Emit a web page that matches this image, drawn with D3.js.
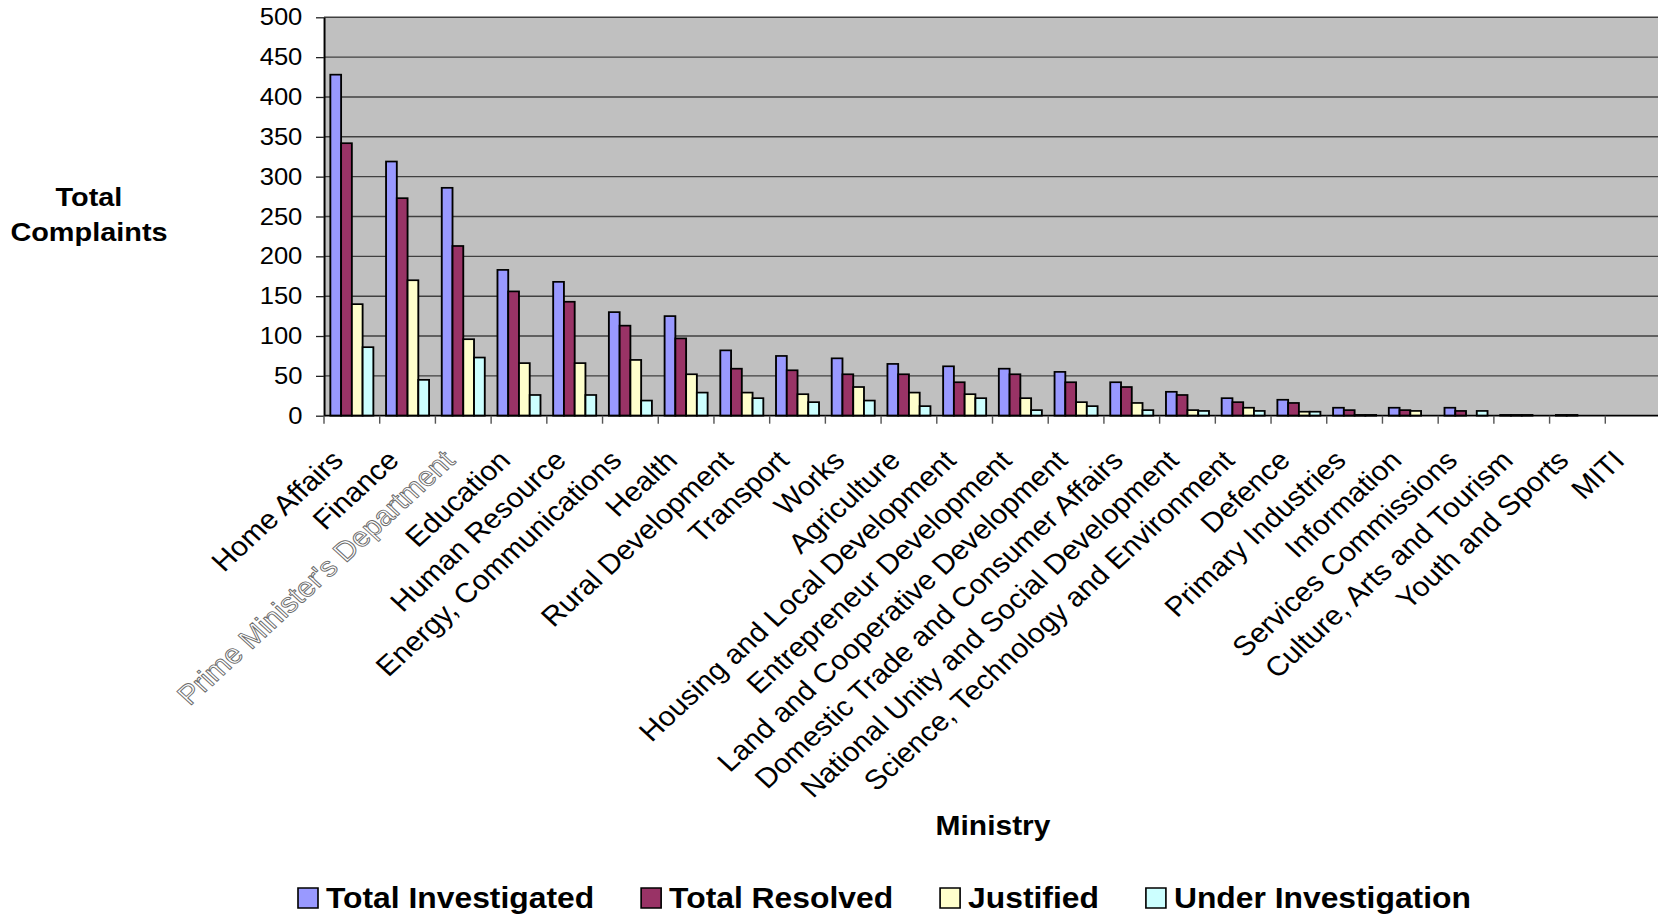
<!DOCTYPE html>
<html>
<head>
<meta charset="utf-8">
<script src="https://cdn.jsdelivr.net/npm/d3@7"></script>
<style>
  html, body { margin: 0; padding: 0; background: #ffffff; }
  svg { display: block; font-family: "Liberation Sans", Arial, sans-serif; }
</style>
</head>
<body>
<svg id="chart"></svg>
<script>
// ---- Data ----
const categories = [
  "Home Affairs", "Finance", "Prime Minister's Department", "Education",
  "Human Resource", "Energy, Communications", "Health", "Rural Development",
  "Transport", "Works", "Agriculture", "Housing and Local Development",
  "Entrepreneur Development", "Land and Cooperative Development",
  "Domestic Trade and Consumer Affairs", "National Unity and Social Development",
  "Science, Technology and Environment", "Defence", "Primary Industries",
  "Information", "Services Commissions", "Culture, Arts and Tourism",
  "Youth and Sports", "MITI"
];
const totalInvestigated  = [428, 319, 286, 183, 168, 130, 125, 82, 75, 72, 65, 62, 59, 55, 42, 30, 22, 20, 10, 10, 10, 1, 1, 0];
const totalResolved      = [342, 273, 213, 156, 143, 113, 97, 59, 57, 52, 52, 42, 52, 42, 36, 26, 17, 16, 7, 7, 6, 1, 1, 0];
const justified          = [140, 170, 96, 66, 66, 70, 52, 29, 27, 36, 29, 27, 22, 17, 16, 7, 10, 5, 1, 6, 0, 1, 0, 0];
const underInvestigation = [86, 45, 73, 26, 26, 19, 29, 22, 17, 19, 12, 22, 7, 12, 7, 6, 6, 5, 1, 0, 6, 0, 0, 0];
const seriesNames  = ["Total Investigated", "Total Resolved", "Justified", "Under Investigation"];
const seriesValues = [totalInvestigated, totalResolved, justified, underInvestigation];
const seriesColors = ["#9999FF", "#993366", "#FFFFCC", "#CCFFFF"];
const yTicks = [0, 50, 100, 150, 200, 250, 300, 350, 400, 450, 500];
const yTitle = ["Total", "Complaints"];
const xTitle = "Ministry";

// ---- Layout (the original picture is stretched horizontally) ----
const W = 1658, H = 918, S = 1.09;
const VW = W / S;
const fx = v => v / S;           // full-pixel x -> view x
const plotL = fx(324), plotR = fx(1661), plotT = 17.3, plotB = 415.7;

const svg = d3.select("#chart")
  .attr("width", W).attr("height", H)
  .attr("viewBox", `0 0 ${VW} ${H}`)
  .attr("preserveAspectRatio", "none");

const x = d3.scaleBand().domain(categories).range([plotL, plotR]).padding(0);
const xs = d3.scaleBand().domain(seriesNames).range([0, x.bandwidth()])
  .paddingInner(0).paddingOuter(0.59);
const y = d3.scaleLinear().domain([0, 500]).range([plotB, plotT]);

// plot background
svg.append("rect")
  .attr("x", plotL).attr("y", plotT)
  .attr("width", plotR - plotL).attr("height", plotB - plotT)
  .attr("fill", "#C0C0C0");

// gridlines
svg.append("g").selectAll("line").data(yTicks.filter(d => d > 0)).join("line")
  .attr("x1", plotL).attr("x2", plotR)
  .attr("y1", d => y(d)).attr("y2", d => y(d))
  .attr("stroke", "#404040").attr("stroke-width", 1.4);

// bars
const rows = [];
seriesNames.forEach((s, si) => {
  categories.forEach((c, ci) => rows.push({ s, c, v: seriesValues[si][ci], color: seriesColors[si] }));
});
svg.append("g").selectAll("rect").data(rows.filter(d => d.v > 0)).join("rect")
  .attr("x", d => x(d.c) + xs(d.s))
  .attr("y", d => y(d.v))
  .attr("width", xs.bandwidth())
  .attr("height", d => y(0) - y(d.v))
  .attr("fill", d => d.color)
  .attr("stroke", "#000")
  .attr("stroke-width", 1.7);

// y axis
const yAxis = svg.append("g")
  .attr("transform", `translate(${plotL},0)`)
  .call(d3.axisLeft(y).tickValues(yTicks).tickSize(fx(8)).tickSizeOuter(0).tickPadding(12.5));
yAxis.select(".domain").attr("stroke", "#000").attr("stroke-width", 1.8);
yAxis.selectAll(".tick line").attr("stroke", "#222").attr("stroke-width", 1.3);
yAxis.selectAll(".tick text")
  .attr("font-size", 23.5).attr("fill", "#000")
  .attr("font-family", "'Liberation Sans', Arial, sans-serif");

// x axis line and category ticks
svg.append("line")
  .attr("x1", plotL).attr("x2", plotR).attr("y1", plotB).attr("y2", plotB)
  .attr("stroke", "#000").attr("stroke-width", 1.8);
const boundaries = categories.map(c => x(c)).concat([x.range()[1]]);
svg.append("g").selectAll("line").data(boundaries).join("line")
  .attr("x1", d => d).attr("x2", d => d)
  .attr("y1", plotB).attr("y2", plotB + 8)
  .attr("stroke", "#555").attr("stroke-width", 1.3);

// x labels (rotated)
svg.append("g").selectAll("text").data(categories).join("text")
  .attr("transform", c => `translate(${x(c) + x.bandwidth() / 2 - fx(7)},462) rotate(-45)`)
  .attr("text-anchor", "end")
  .attr("font-size", 27.5)
  .attr("fill", (c, i) => i === 2 ? "#ffffff" : "#000")
  .attr("stroke", (c, i) => i === 2 ? "#6a6a6a" : "none")
  .attr("stroke-width", (c, i) => i === 2 ? 0.9 : 0)
  .text(c => c);

// y title
const yt = svg.append("text")
  .attr("x", fx(89)).attr("y", 206)
  .attr("text-anchor", "middle")
  .attr("font-size", 26.5).attr("font-weight", "bold");
yt.selectAll("tspan").data(yTitle).join("tspan")
  .attr("x", fx(89)).attr("dy", (d, i) => i === 0 ? 0 : 35)
  .text(d => d);

// x title
svg.append("text")
  .attr("x", fx(993)).attr("y", 835)
  .attr("text-anchor", "middle")
  .attr("font-size", 27.5).attr("font-weight", "bold")
  .text(xTitle);

// legend
const leg = svg.append("g");
let lx = fx(298);
seriesNames.forEach((s, i) => {
  leg.append("rect")
    .attr("x", lx).attr("y", 888)
    .attr("width", fx(20)).attr("height", 20)
    .attr("fill", seriesColors[i]).attr("stroke", "#000").attr("stroke-width", 1.5);
  const t = leg.append("text")
    .attr("x", lx + fx(28)).attr("y", 908)
    .attr("font-size", 29.2).attr("font-weight", "bold")
    .text(s);
  lx = lx + fx(28) + t.node().getComputedTextLength() + fx(47);
});
</script>
</body>
</html>
